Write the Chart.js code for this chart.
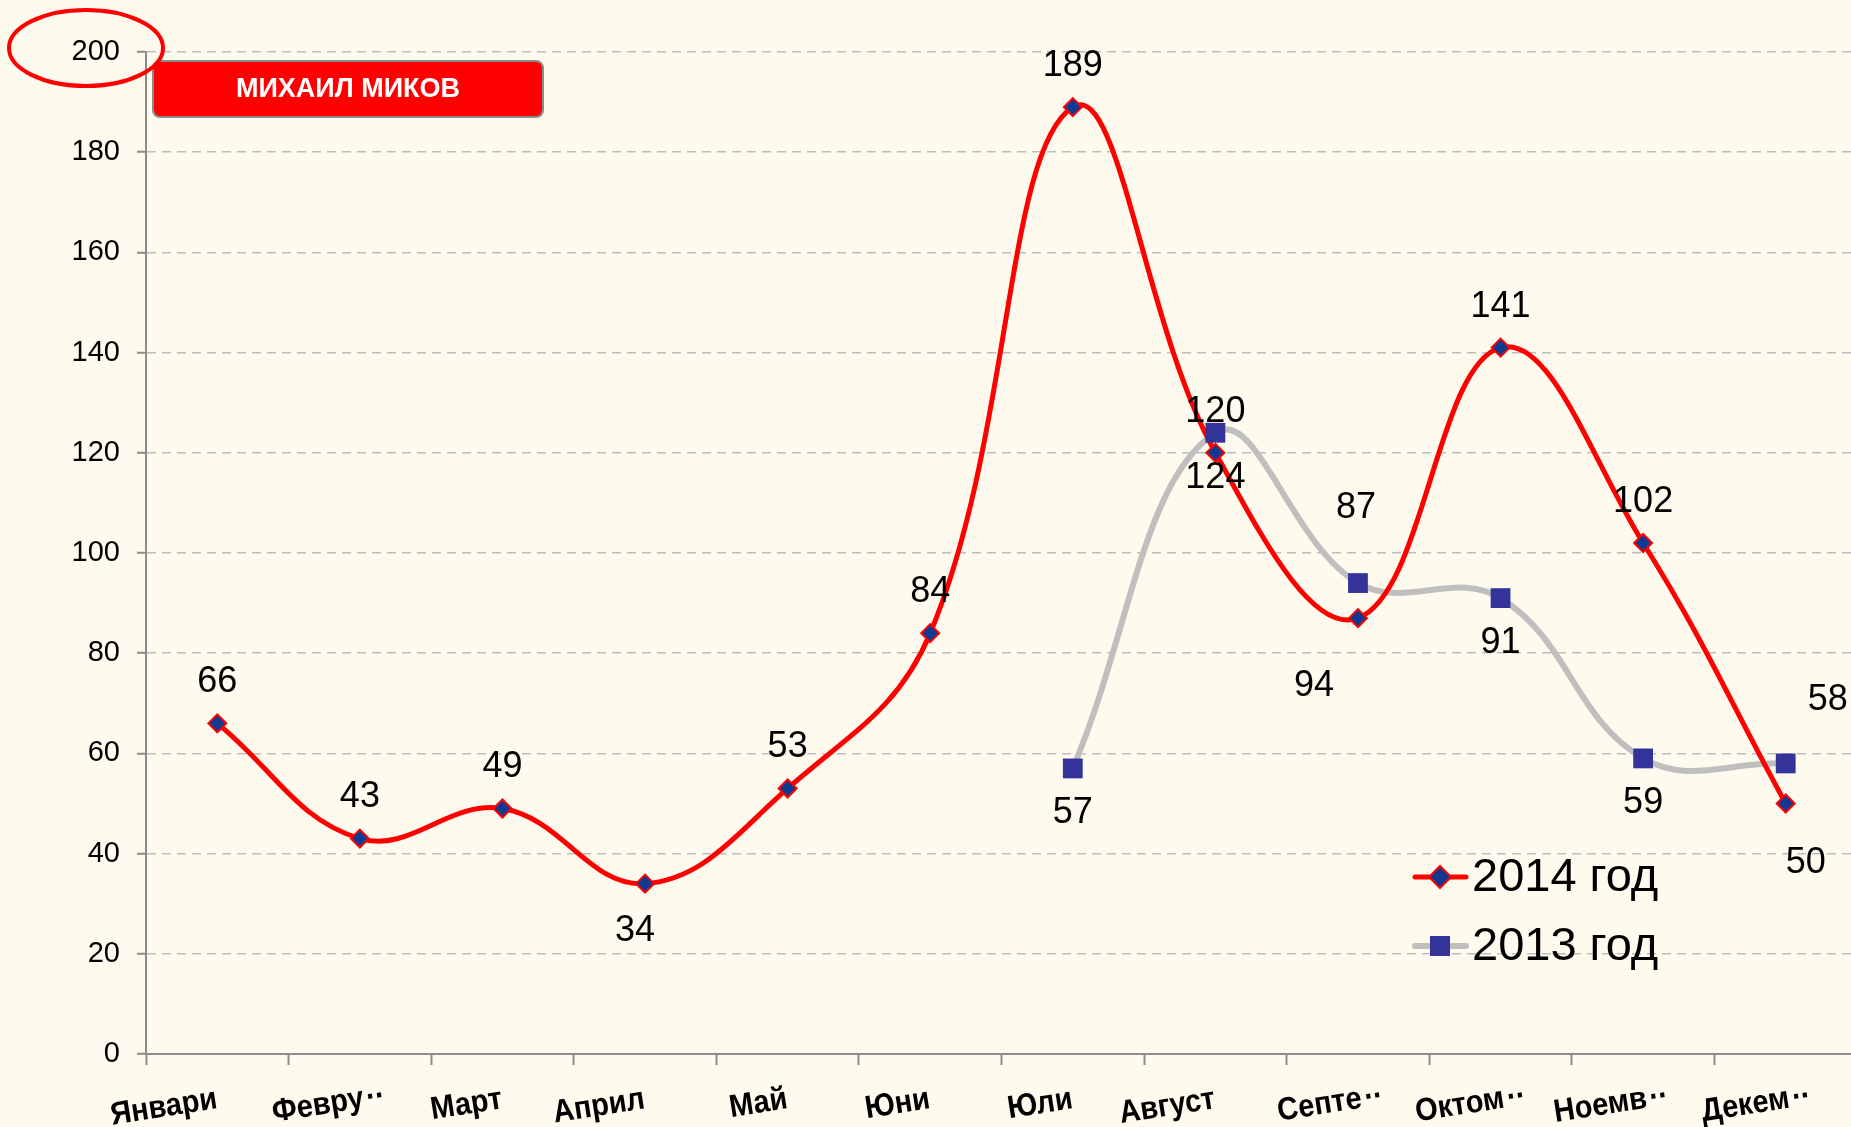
<!DOCTYPE html>
<html><head><meta charset="utf-8">
<script src="https://cdn.jsdelivr.net/npm/chart.js@4.4.1/dist/chart.umd.min.js"></script>
<style>html,body{margin:0;padding:0;background:#FEFAEE;overflow:hidden}#wrap{width:1851px;height:1127px;position:relative;overflow:hidden}</style>
</head><body><div id="wrap"><canvas id="c" width="1871" height="1127"></canvas></div>
<script>
const months = ['Январи','Февру..','Март','Април','Май','Юни','Юли','Август','Септе..','Октом..','Ноемв..','Декем..'];
const values2014 = [66,43,49,34,53,84,189,120,87,141,102,50];
const values2013 = [null,null,null,null,null,null,57,124,94,91,59,58];
const yTickValues = [0,20,40,60,80,100,120,140,160,180,200];
const seriesNames = ['2014 год','2013 год'];
const titleText = 'МИХАИЛ МИКОВ';

const RED = '#FF0000', GRAY = '#BFBFBF', DIAMOND = '#0E3A92', SQUARE = '#333399', AXIS = '#8C8C8C';

const labelCfg = {
  font: '36px "Liberation Sans", Arial, sans-serif',
  series: [
    {ds: 1, def: [0,-41], special: {3:[-10,47], 8:[-2,-110], 11:[20,60]}},
    {ds: 0, def: [0,45], special: {8:[-44,103], 11:[42,-63]}}
  ]
};

const bgPlugin = {
  id: 'bg',
  beforeDraw(chart) {
    const ctx = chart.ctx;
    ctx.save();
    ctx.fillStyle = '#FEFAEE';
    ctx.fillRect(0,0,chart.width,chart.height);
    ctx.restore();
  }
};

const xLabelPlugin = {
  id: 'xlabels',
  afterDraw(chart) {
    const ctx = chart.ctx, xs = chart.scales.x;
    ctx.save();
    ctx.fillStyle = '#000';
    ctx.font = 'bold 29px "Liberation Sans", Arial, sans-serif';
    ctx.textBaseline = 'alphabetic';
    chart.data.labels.forEach((lab, i) => {
      const x = xs.getPixelForValue(i);
      ctx.save();
      ctx.translate(x + 1, chart.chartArea.bottom + 54);
      ctx.rotate(-9 * Math.PI / 180);
      ctx.scale(1, 1.1);
      if (lab.endsWith('..')) {
        ctx.textAlign = 'right';
        ctx.fillText(lab.slice(0, -2), 4, 0);
        ctx.textAlign = 'left';
        ctx.fillText('.', 7, -7);
        ctx.fillText('.', 16, -7);
      } else {
        ctx.textAlign = 'right';
        ctx.fillText(lab, 0, 0);
      }
      ctx.restore();
    });
    ctx.restore();
  }
};

const labelPlugin = {
  id: 'dlabels',
  afterDatasetsDraw(chart) {
    const ctx = chart.ctx;
    ctx.save();
    ctx.font = labelCfg.font;
    ctx.fillStyle = '#000';
    ctx.textAlign = 'center';
    ctx.textBaseline = 'middle';
    labelCfg.series.forEach(s => {
      const meta = chart.getDatasetMeta(s.ds);
      const data = chart.data.datasets[s.ds].data;
      meta.data.forEach((pt, i) => {
        const v = data[i];
        if (v === null || v === undefined) return;
        const off = s.special[i] || s.def;
        ctx.fillText(String(v), pt.x + off[0], pt.y + off[1]);
      });
    });
    ctx.restore();
  }
};

const decoPlugin = {
  id: 'deco',
  afterDraw(chart) {
    const ctx = chart.ctx;
    ctx.save();
    // title box
    const bx = 153, by = 61, bw = 390, bh = 56, r = 7;
    ctx.beginPath();
    ctx.roundRect(bx, by, bw, bh, r);
    ctx.fillStyle = RED;
    ctx.fill();
    ctx.lineWidth = 2;
    ctx.strokeStyle = '#8A8A8A';
    ctx.stroke();
    ctx.fillStyle = '#FFFFFF';
    ctx.font = 'bold 27px "Liberation Sans", Arial, sans-serif';
    ctx.textAlign = 'center';
    ctx.textBaseline = 'middle';
    ctx.fillText(titleText, bx + bw/2, by + bh/2 + 1);
    // ellipse around 200
    ctx.beginPath();
    ctx.ellipse(86, 48, 77, 38, 0, 0, Math.PI*2);
    ctx.lineWidth = 4;
    ctx.strokeStyle = RED;
    ctx.stroke();
    // legend
    const rows = [
      {y: 877, color: RED, w: 5, marker: 'diamond', text: seriesNames[0]},
      {y: 946, color: GRAY, w: 6, marker: 'square', text: seriesNames[1]}
    ];
    rows.forEach(rw => {
      ctx.beginPath();
      ctx.lineCap = 'round';
      ctx.moveTo(1415, rw.y); ctx.lineTo(1466, rw.y);
      ctx.strokeStyle = rw.color; ctx.lineWidth = rw.w; ctx.stroke();
      const cx = 1440;
      if (rw.marker === 'diamond') {
        ctx.beginPath();
        ctx.moveTo(cx, rw.y-11); ctx.lineTo(cx+11, rw.y); ctx.lineTo(cx, rw.y+11); ctx.lineTo(cx-11, rw.y); ctx.closePath();
        ctx.fillStyle = DIAMOND; ctx.fill();
        ctx.lineWidth = 2; ctx.strokeStyle = RED; ctx.stroke();
      } else {
        ctx.fillStyle = SQUARE;
        ctx.fillRect(cx-10, rw.y-10, 20, 20);
      }
      ctx.fillStyle = '#000';
      ctx.font = '47px "Liberation Sans", Arial, sans-serif';
      ctx.textAlign = 'left';
      ctx.textBaseline = 'middle';
      ctx.fillText(rw.text, 1472, rw.y + 1);
    });
    ctx.restore();
  }
};

new Chart(document.getElementById('c'), {
  type: 'line',
  data: {
    labels: months,
    datasets: [
      {label: seriesNames[1], data: values2013, showLine: false, pointStyle: 'rect', pointRadius: 14, pointHoverRadius: 14,
       pointBackgroundColor: SQUARE, pointBorderColor: SQUARE, pointBorderWidth: 0, borderColor: GRAY},
      {label: seriesNames[0], data: values2014, borderColor: RED, borderWidth: 5, tension: 0.4, fill: false,
       pointStyle: 'rectRot', pointRadius: 9, pointHoverRadius: 9, pointBackgroundColor: DIAMOND, pointBorderColor: RED, pointBorderWidth: 2},
      {label: seriesNames[1] + ' line', data: values2013, borderColor: GRAY, borderWidth: 6, tension: 0.4, fill: false,
       pointRadius: 0, spanGaps: false}
    ]
  },
  options: {
    responsive: false,
    devicePixelRatio: 1,
    animation: false,
    events: [],
    layout: {padding: {top: 52, right: 0, bottom: 0, left: 0}},
    plugins: {legend: {display: false}, tooltip: {enabled: false}, title: {display: false}},
    scales: {
      x: {
        offset: true,
        afterFit(axis) { axis.height = 73; },
        grid: {offset: true, drawOnChartArea: false, drawTicks: true, tickLength: 11, tickColor: AXIS, tickWidth: 2},
        border: {display: true, color: AXIS, width: 2},
        ticks: {display: false, autoSkip: false}
      },
      y: {
        min: 0, max: 200,
        afterFit(axis) { axis.width = 146; },
        afterBuildTicks(axis) { axis.ticks = yTickValues.map(v => ({value: v})); },
        grid: {color: '#BDBDBD', lineWidth: 1.5, tickColor: AXIS, tickLength: 9, tickWidth: 2, drawTicks: true},
        border: {display: true, color: AXIS, width: 2, dash: [9,6]},
        ticks: {padding: 17, color: '#000', font: {family: '"Liberation Sans", Arial', size: 29}}
      }
    }
  },
  plugins: [bgPlugin, labelPlugin, decoPlugin, xLabelPlugin]
});
</script></body></html>
